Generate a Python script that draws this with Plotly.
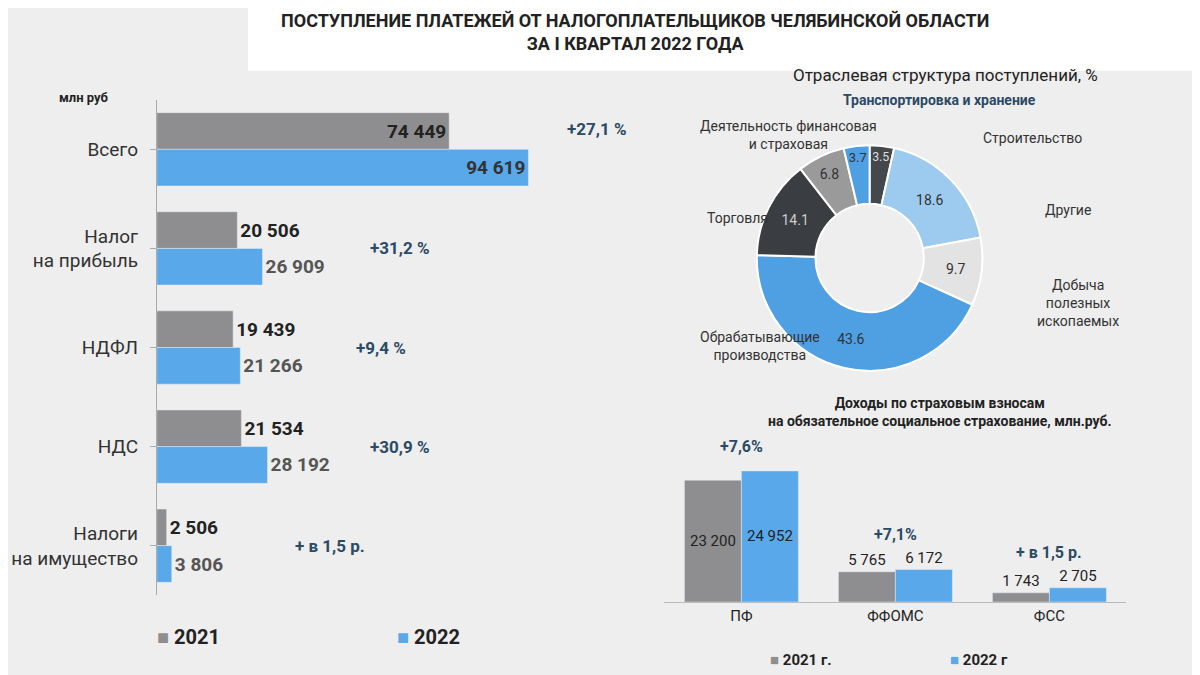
import plotly.graph_objects as go

# left chart
taxes = ["Всего", "Налог<br>на прибыль", "НДФЛ", "НДС", "Налоги<br>на имущество"]
v2021 = [74449, 20506, 19439, 21534, 2506]
v2022 = [94619, 26909, 21266, 28192, 3806]
growth = ["+27,1 %", "+31,2 %", "+9,4 %", "+30,9 %", "+ в 1,5 р."]

# pie
sectors = ["Строительство", "Другие", "Добыча полезных ископаемых",
           "Обрабатывающие производства", "Торговля",
           "Деятельность финансовая и страховая", "Транспортировка и хранение"]
shares = [3.5, 18.6, 9.7, 43.6, 14.1, 6.8, 3.7]
pie_colors = ["#44474c", "#9dcaef", "#e3e3e3", "#4f9fe3", "#3a3d42", "#9a9a9a", "#4f9fe3"]

# right chart
funds = ["ПФ", "ФФОМС", "ФСС"]
f2021 = [23200, 5765, 1743]
f2022 = [24952, 6172, 2705]
fgrowth = ["+7,6%", "+7,1%", "+ в 1,5 р."]

GRAY = "#8e8e90"
BLUE = "#58a8ea"
DARK = "#2b4a66"


def fmt(v):
    return f"{v:,}".replace(",", " ")


def py(y):
    # pixel row -> paper y
    return 1 - y / 675


fig = go.Figure()

fig.add_trace(go.Bar(
    y=taxes, x=v2021, orientation="h", marker_color=GRAY,
    text=["<b>%s</b>" % fmt(v) for v in v2021],
    textposition=["inside"] + ["outside"] * 4, insidetextanchor="end",
    textfont=dict(size=19, color="#222"), cliponaxis=False,
))
fig.add_trace(go.Bar(
    y=taxes, x=v2022, orientation="h", marker_color=BLUE,
    text=["<b>%s</b>" % fmt(v) for v in v2022],
    textposition=["inside"] + ["outside"] * 4, insidetextanchor="end",
    textfont=dict(size=19, color=["#333"] + ["#555"] * 4), cliponaxis=False,
))

fig.add_trace(go.Pie(
    labels=sectors, values=shares, hole=0.48, sort=False, direction="clockwise",
    rotation=0, marker=dict(colors=pie_colors, line=dict(color="white", width=2)),
    textinfo="value", textposition="inside", insidetextorientation="horizontal",
    textfont=dict(size=14, color=["#ddd", "#333", "#333", "#333", "#ccc", "#333", "#333"]),
    domain=dict(x=[0.624, 0.812], y=[py(363), py(137)]), showlegend=False,
))

fig.add_trace(go.Bar(
    x=funds, y=f2021, marker_color=GRAY, xaxis="x2", yaxis="y2",
    text=[fmt(v) for v in f2021], textposition=["inside", "outside", "outside"],
    insidetextanchor="middle", textfont=dict(size=15, color="#222"), cliponaxis=False,
))
fig.add_trace(go.Bar(
    x=funds, y=f2022, marker_color=BLUE, xaxis="x2", yaxis="y2",
    text=[fmt(v) for v in f2022], textposition=["inside", "outside", "outside"],
    insidetextanchor="middle", textfont=dict(size=15, color="#222"), cliponaxis=False,
))

ann = []
growth_x = [112000, 62000, 57000, 62000, 44000]
for i, g in enumerate(growth):
    ann.append(dict(x=growth_x[i], y=taxes[i], yshift=20 if i == 0 else 0,
                    xref="x", yref="y", text="<b>%s</b>" % g, showarrow=False,
                    font=dict(size=17, color=DARK)))
for i, g in enumerate(fgrowth):
    ann.append(dict(x=funds[i], y=f2022[i] + (4500 if i else 2500), xref="x2", yref="y2",
                    text="<b>%s</b>" % g, showarrow=False, yanchor="bottom",
                    font=dict(size=16, color=DARK)))

pie_labels = [
    (932, 92, "<b>Транспортировка и хранение</b>", DARK),
    (1024, 130, "Строительство", "#333"),
    (1060, 202, "Другие", "#333"),
    (1070, 295, "Добыча<br>полезных<br>ископаемых", "#333"),
    (752, 338, "Обрабатывающие<br>производства", "#333"),
    (730, 210, "Торговля", "#333"),
    (780, 127, "Деятельность финансовая<br>и страховая", "#333"),
]
for x, y, t, c in pie_labels:
    ann.append(dict(x=x / 1200, y=py(y), xref="paper", yref="paper", text=t, showarrow=False,
                    xanchor="center", yanchor="middle", align="center",
                    font=dict(size=14, color=c)))

texts = [
    (627, 24, "<b>ПОСТУПЛЕНИЕ ПЛАТЕЖЕЙ ОТ НАЛОГОПЛАТЕЛЬЩИКОВ ЧЕЛЯБИНСКОЙ ОБЛАСТИ<br>ЗА I КВАРТАЛ 2022 ГОДА</b>", 18, "center"),
    (937, 67, "Отраслевая структура поступлений, %", 17, "center"),
    (932, 404, "<b>Доходы по страховым взносам<br>на обязательное социальное страхование, млн.руб.</b>", 14, "center"),
    (76, 90, "<b>млн руб</b>", 13, "center"),
    (147, 629, "<span style='color:#8e8e90'>■</span> <b>2021</b>", 20, "left"),
    (387, 629, "<span style='color:#58a8ea'>■</span> <b>2022</b>", 20, "left"),
    (760, 652, "<span style='color:#8e8e90'>■</span> <b>2021 г.</b>", 15, "left"),
    (940, 652, "<span style='color:#58a8ea'>■</span> <b>2022 г</b>", 15, "left"),
]
for x, y, t, s, al in texts:
    ann.append(dict(x=x / 1200, y=py(y), xref="paper", yref="paper", text=t, showarrow=False,
                    xanchor=al, yanchor="middle", font=dict(size=s, color="#222")))

fig.update_layout(
    width=1200, height=675, barmode="group", bargap=0.26, bargroupgap=0,
    paper_bgcolor="#eeeeee", plot_bgcolor="rgba(0,0,0,0)",
    showlegend=False, margin=dict(l=0, r=0, t=0, b=0, autoexpand=False),
    font=dict(family="Roboto, sans-serif"),
    xaxis=dict(domain=[0.124, 0.52], range=[0, 121000], visible=False),
    yaxis=dict(domain=[0.13, 0.864], autorange="reversed", showline=True,
               linecolor="#aaa", ticks="outside", ticklen=6, tickcolor="#aaa",
               tickfont=dict(size=19, color="#333"), ticklabelstandoff=8, automargin=False),
    xaxis2=dict(domain=[0.547, 0.932], anchor="y2", showline=True, linecolor="#bbb",
                ticks="", tickfont=dict(size=15, color="#222"), automargin=False),
    yaxis2=dict(domain=[0.12, 0.362], anchor="x2", range=[0, 31100], visible=False),
    annotations=ann,
    shapes=[dict(type="rect", xref="paper", yref="paper", x0=0.2, x1=1, y0=0.907, y1=1.02,
                 fillcolor="white", line_width=0, layer="below")],
)

fig.write_html("out.html")
